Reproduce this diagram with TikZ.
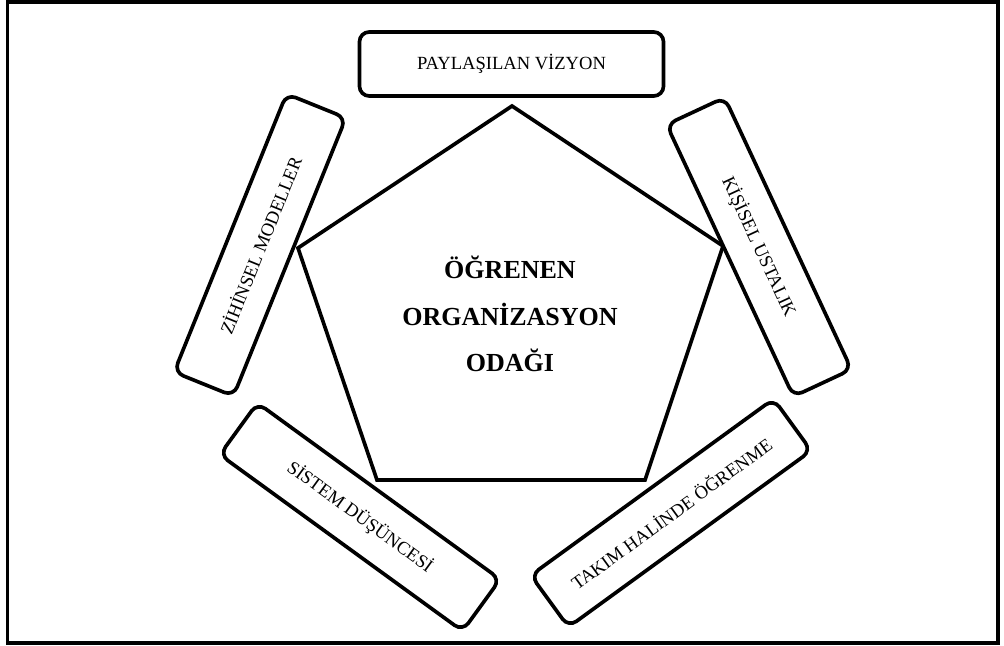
\documentclass[tikz,border=0pt]{standalone}
\usepackage{fontspec}
\setmainfont{Liberation Serif}

\begin{document}
\begin{tikzpicture}[
        x=0.025cm, y=-0.025cm,
        every node/.style={font=\fontsize{13.2}{16}\selectfont},
        disc/.style={rectangle, draw, fill=white, line width=2.6pt, rounded corners=7pt, minimum width=7.5cm, minimum height=1.6cm, inner sep=2pt},
        edge/.style={line width=2.6pt, line join=miter}
    ]
    % Frame
    \useasboundingbox (0,0) rectangle (1004,645);
    \draw[line width=2.8pt] (7.5,2) rectangle (998,643);

    % Pentagon
    \coordinate (ptop) at (512,106);
    \coordinate (pright) at (723,246);
    \coordinate (pbr) at (645,480);
    \coordinate (pbl) at (377,480);
    \coordinate (pleft) at (298,248);
    \draw[edge] (ptop) -- (pright) -- (pbr) -- (pbl) -- (pleft) -- cycle;

    % Focus
    \node[align=center, font=\fontsize{18.5}{33}\selectfont\bfseries] (focus) at (510,314) {ÖĞRENEN\\ORGANİZASYON\\ODAĞI};

    % Disciplines
    \node[disc, minimum width=7.6cm] (vision) at (511.5,64) {PAYLAŞILAN VİZYON};
    \node[disc, rotate=68] (models) at (260,245) {ZİHİNSEL MODELLER};
    \node[disc, rotate=-65] (mastery) at (759,247) {KİŞİSEL USTALIK};
    \node[disc, rotate=-36] (systems) at (360,517) {SİSTEM DÜŞÜNCESİ};
    \node[disc, rotate=36] (team) at (671,513) {TAKIM HALİNDE ÖĞRENME};
\end{tikzpicture}
\end{document}
